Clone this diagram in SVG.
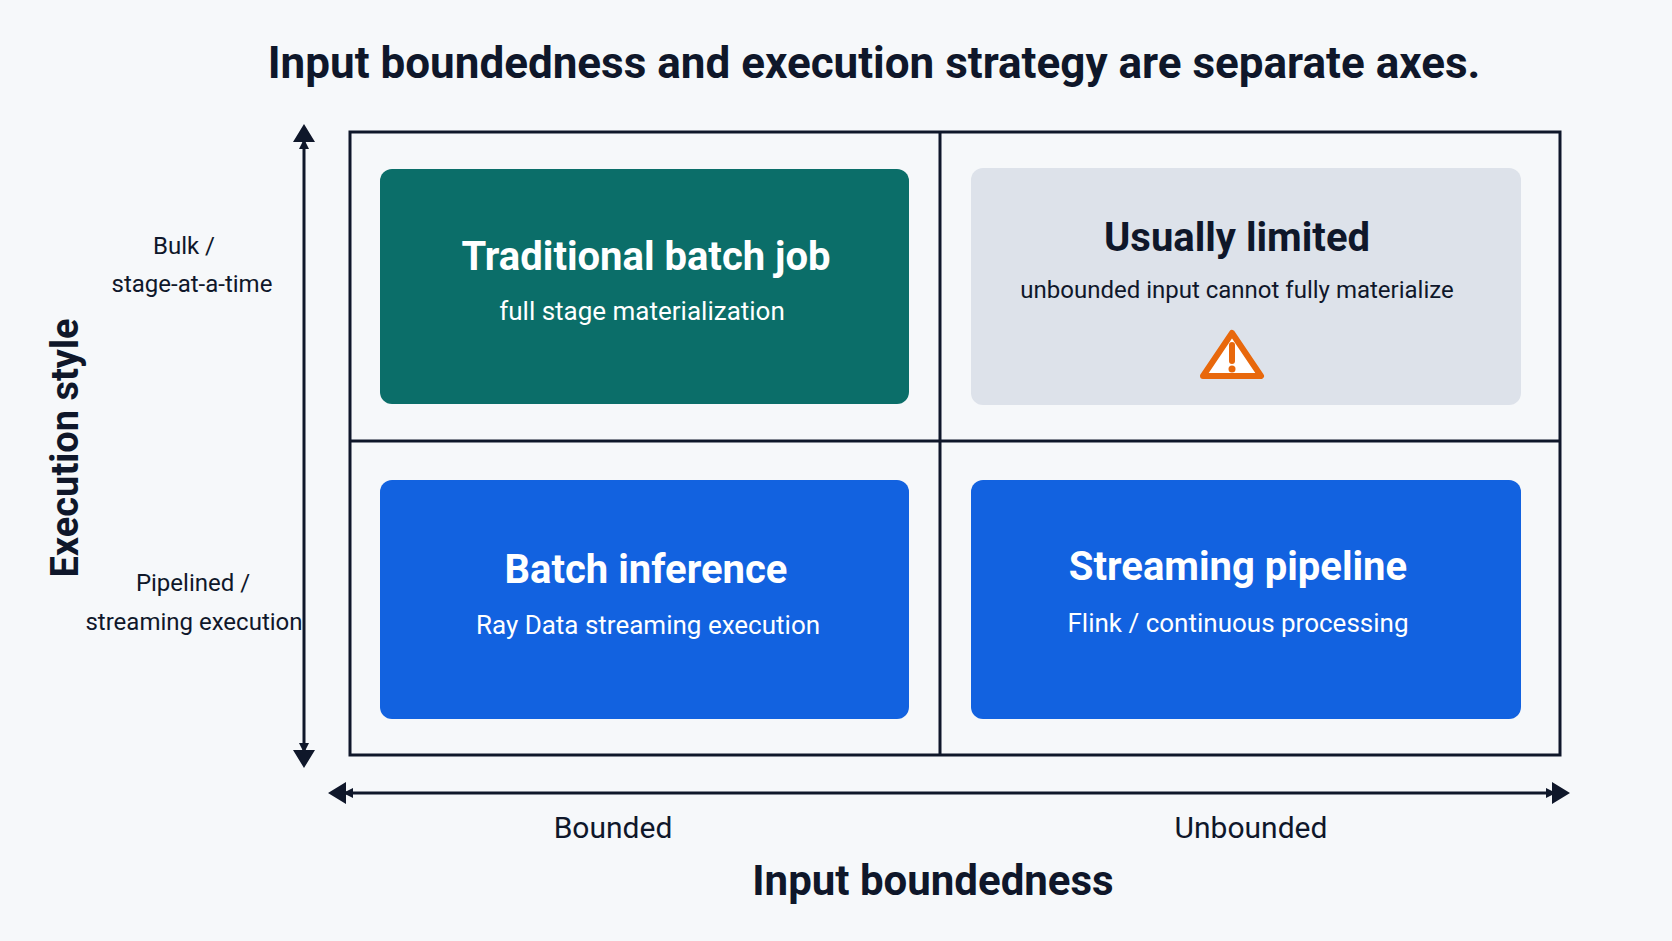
<svg xmlns="http://www.w3.org/2000/svg" width="1672" height="941" viewBox="0 0 1672 941">
<defs>
<marker id="ah" viewBox="0 0 10 10" refX="9" refY="5" markerWidth="10" markerHeight="10" markerUnits="userSpaceOnUse" orient="auto-start-reverse"><path d="M0,0 L10,5 L0,10 z" fill="#0F172A"/></marker>
<style>
text{font-family:Roboto,"Liberation Sans",sans-serif;text-anchor:middle;fill:#0F172A}
.b{font-weight:700}
.w{fill:#fff}
.ax{stroke:#0F172A;stroke-width:3;fill:none}
</style>
</defs>
<rect width="1672" height="941" fill="#F6F8FA"/>
<text class="b" x="874" y="78" font-size="44">Input boundedness and execution strategy are separate axes.</text>
<g id="connectors">
<line class="ax" x1="304" y1="140" x2="304" y2="752" marker-start="url(#ah)" marker-end="url(#ah)" stroke-width="3"/>
<line class="ax" x1="344" y1="793" x2="1555" y2="793" marker-start="url(#ah)" marker-end="url(#ah)"/>
<path d="M304,124 l-11,18 h22 z M304,768 l-11,-18 h22 z M328,793 l18,-11 v22 z M1570,793 l-18,-11 v22 z" fill="#0F172A"/>
</g>
<g id="grid">
<rect x="350" y="132" width="1210" height="623" fill="none" stroke="#0F172A" stroke-width="3"/>
<line x1="940" y1="132" x2="940" y2="755" stroke="#0F172A" stroke-width="3"/>
<line x1="350" y1="441" x2="1560" y2="441" stroke="#0F172A" stroke-width="3"/>
</g>
<g id="tl"><rect x="380" y="169" width="529" height="235" rx="12" fill="#0B6E69"/>
<text class="b w" x="646" y="270" font-size="40">Traditional batch job</text>
<text class="w" x="642" y="320" font-size="26">full stage materialization</text></g>
<g id="tr"><rect x="971" y="168" width="550" height="237" rx="12" fill="#DDE2EA"/>
<text class="b" x="1237" y="251" font-size="40">Usually limited</text>
<text x="1237" y="298" font-size="24">unbounded input cannot fully materialize</text>
<path d="M1232,333 L1261,376 L1203,376 Z" fill="#fff" stroke="#E8680C" stroke-width="6" stroke-linejoin="round"/>
<line x1="1232" y1="345" x2="1232" y2="361" stroke="#E8680C" stroke-width="6" stroke-linecap="round"/>
<circle cx="1232" cy="369" r="3.5" fill="#E8680C"/></g>
<g id="bl"><rect x="380" y="480" width="529" height="239" rx="12" fill="#1262E0"/>
<text class="b w" x="646" y="583" font-size="40">Batch inference</text>
<text class="w" x="648" y="634" font-size="26">Ray Data streaming execution</text></g>
<g id="br"><rect x="971" y="480" width="550" height="239" rx="12" fill="#1262E0"/>
<text class="b w" x="1238" y="580" font-size="40">Streaming pipeline</text>
<text class="w" x="1238" y="632" font-size="26">Flink / continuous processing</text></g>
<g id="labels">
<text x="184" y="254" font-size="24">Bulk /</text>
<text x="192" y="292" font-size="24">stage-at-a-time</text>
<text x="193" y="591" font-size="24">Pipelined /</text>
<text x="194" y="630" font-size="24">streaming execution</text>
<text class="b" transform="translate(78,448) rotate(-90)" font-size="38">Execution style</text>
<text x="613" y="838" font-size="30">Bounded</text>
<text x="1251" y="838" font-size="30">Unbounded</text>
<text class="b" x="933" y="895" font-size="42">Input boundedness</text>
</g>
</svg>
